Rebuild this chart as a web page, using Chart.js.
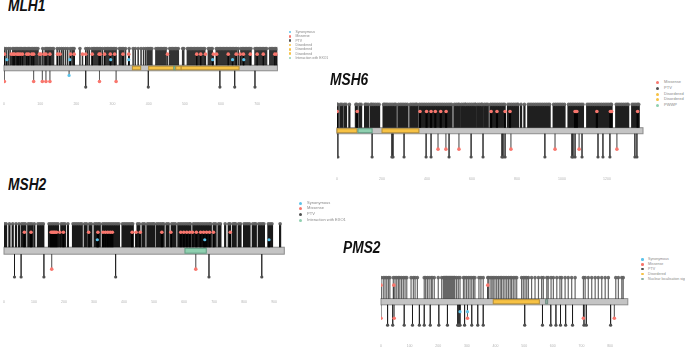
<!DOCTYPE html>
<html>
<head>
<meta charset="utf-8">
<script src="https://cdn.jsdelivr.net/npm/chart.js@4.4.0/dist/chart.umd.min.js"></script>
<style>
  html, body { margin: 0; padding: 0; background: #fff; overflow: hidden; width: 685px; height: 348px; }
  #page { position: relative; width: 685px; height: 348px; }
  canvas { position: absolute; }
  .title { position: absolute; font-family: "Liberation Sans", Arial, sans-serif; font-weight: bold; font-style: italic;
           font-size: 16px; line-height: 16px; color: #111; transform: scaleX(0.86); transform-origin: left top; }
  .legend { position: absolute; font-family: "Liberation Sans", Arial, sans-serif; color: #888; white-space: nowrap; }
  .legend div { position: absolute; left: 0; }
  .legend span { position: absolute; border-radius: 50%; }
</style>
</head>
<body>
<div id="page"></div>
<script>
// ---- data (amino-acid positions) ----
const mlh1Ticks = [0, 100, 200, 300, 400, 500, 600, 700];
const mlh1Ptv = [1, 6, 12, 17, 24, 27, 31, 35, 38, 42, 46, 49, 53, 57, 60, 64, 68, 71, 75, 79, 83, 86, 90, 94, 107, 114, 118, 121, 125, 129, 133, 137,
  147, 153, 159, 164, 170, 176, 183, 188, 191, 194, 210, 226, 231, 236, 243, 247, 251, 255, 259, 263, 267, 272, 278, 282, 286, 290, 294, 298,
  302, 306, 310, 319, 323, 327, 331, 336, 346, 357, 363, 371, 379, 386, 392, 397, 401, 405, 409, 420, 424, 428, 432, 436, 440, 444, 448, 458,
  462, 466, 470, 474, 478, 482, 494, 497, 507, 511, 515, 519, 523, 527, 531, 535, 539, 543, 547, 551, 555, 565, 569, 573, 576, 587, 591, 595,
  599, 603, 607, 611, 615, 619, 623, 627, 631, 635, 639, 643, 648, 655, 659, 663, 667, 671, 675, 679, 683, 694, 698, 702, 706, 710, 714, 718,
  722, 726, 735, 739, 743, 747, 751, 755];
const mlh1Mis = [1, 20, 25, 29, 36, 40, 45, 51, 63, 68, 77, 82, 98, 102, 111, 116, 127, 148, 155, 184, 194, 217, 226, 244, 263, 266, 278, 294,
  306, 329, 345, 452, 533, 544, 557, 579, 588, 620, 642, 653, 662, 681, 700, 717, 749, 755];
const mlh1Syn = [8, 182, 295, 345, 577, 632, 663];
const mlh1BotSyn = [180];
const mlh1BotMis = [1, 82, 106, 116, 127, 264, 310];
const mlh1BotPtv = [226, 399, 597, 638, 694];
const mlh1Domains = [["Disordered", 355, 378], ["Disordered", 400, 470], ["Interaction with EXO1", 470, 475], ["Disordered", 475, 490], ["Disordered", 490, 650]];
const mlh1Legend = ["Synonymous", "Missense", "PTV", "Disordered", "Disordered", "Disordered", "Interaction with EXO1"];

const msh6Ticks = [0, 200, 400, 600, 800, 1000, 1200];
const msh6Ptv = [1, 3, 15, 22, 33, 40, 55, 84, 88, 100, 107, 125, 130, 138, 150, 155, 162, 170, 179, 187, 207, 212, 218, 224, 232, 240, 248, 256,
  261, 273, 281, 289, 297, 305, 313, 326, 334, 342, 350, 355, 366, 374, 382, 390, 398, 406, 414, 422, 430, 438, 446, 454, 462, 470, 478, 486,
  494, 502, 509, 522, 530, 538, 543, 553, 561, 569, 572, 581, 589, 597, 605, 613, 616, 626, 634, 642, 645, 655, 663, 670, 682, 690, 698, 706,
  714, 722, 730, 738, 745, 760, 768, 776, 784, 792, 800, 805, 818, 833, 850, 858, 866, 874, 882, 890, 898, 906, 914, 922, 930, 938, 945, 963,
  971, 979, 987, 995, 1003, 1011, 1029, 1037, 1045, 1053, 1061, 1069, 1077, 1085, 1093, 1112, 1120, 1128, 1136, 1144, 1152, 1160, 1168, 1176,
  1184, 1192, 1200, 1208, 1216, 1220, 1241, 1249, 1257, 1265, 1273, 1281, 1289, 1294, 1312, 1320, 1328, 1336, 1341];
const msh6Mis = [1, 90, 369, 398, 418, 437, 461, 485, 685, 711, 747, 769, 1058, 1066, 1155, 1215, 1221, 1336];
const msh6Syn = [];
const msh6BotSyn = [];
const msh6BotMis = [449, 484, 542, 773, 969, 1076, 1244];
const msh6BotPtv = [4, 156, 244, 249, 298, 396, 418, 498, 596, 649, 733, 738, 747, 924, 1044, 1049, 1058, 1089, 1160, 1182, 1213, 1324, 1333];
const msh6Domains = [["Disordered", 0, 89], ["PWWP", 93, 156], ["Disordered", 200, 364]];
const msh6Legend = ["Missense", "PTV", "Disordered", "Disordered", "PWWP"];

const msh2Ticks = [0, 100, 200, 300, 400, 500, 600, 700, 800, 900];
const msh2Ptv = [1, 7, 18, 29, 40, 50, 59, 65, 71, 81, 87, 93, 101, 113, 119, 125, 131, 150, 156, 162, 168, 174, 180, 191, 197, 203, 213, 230,
  236, 242, 248, 254, 259, 269, 275, 285, 291, 302, 308, 314, 319, 329, 335, 341, 347, 353, 359, 365, 371, 377, 383, 395, 401, 407, 413, 419,
  425, 429, 445, 451, 462, 468, 478, 484, 490, 496, 500, 509, 515, 521, 527, 532, 542, 548, 559, 565, 571, 581, 587, 593, 599, 605, 611, 617,
  621, 631, 637, 643, 649, 655, 661, 667, 673, 679, 685, 689, 699, 705, 715, 721, 737, 749, 753, 763, 768, 772, 782, 788, 800, 806, 812, 818,
  829, 835, 839, 849, 855, 861, 866, 881, 887, 893, 920];
const msh2Mis = [68, 90, 157, 162, 166, 170, 175, 186, 198, 282, 313, 330, 338, 346, 354, 361, 427, 440, 454, 526, 556, 589, 599, 609, 619, 628,
  641, 655, 665, 675, 685, 698, 754];
const msh2Syn = [311, 669, 883];
const msh2BotSyn = [];
const msh2BotMis = [159, 639];
const msh2BotPtv = [35, 57, 133, 372, 683, 859];
const msh2Domains = [["Interaction with EXO1", 603, 674]];
const msh2Legend = ["Synonymous", "Missense", "PTV", "Interaction with EXO1"];

const pms2Ticks = [0, 100, 200, 300, 400, 500, 600, 700, 800];
const pms2Ptv = [0, 8, 14, 20, 26, 31, 43, 49, 55, 61, 66, 72, 78, 84, 90, 105, 113, 119, 127, 151, 156, 162, 168, 175, 179, 186, 200, 212, 218,
  221, 224, 227, 229, 232, 235, 238, 241, 244, 247, 250, 253, 256, 258, 264, 270, 276, 288, 293, 299, 305, 311, 317, 323, 328, 342, 349, 357,
  373, 375, 381, 387, 392, 398, 404, 410, 416, 421, 427, 433, 439, 445, 451, 456, 462, 468, 474, 491, 497, 503, 509, 515, 526, 538, 550, 561,
  567, 579, 584, 594, 602, 614, 625, 631, 643, 654, 666, 678, 707, 713, 724, 736, 748, 759, 771, 783, 794, 820, 829, 841, 846];
const pms2Mis = [0, 45, 373];
const pms2Syn = [];
const pms2BotSyn = [276, 302];
const pms2BotMis = [0, 46, 302, 707, 815];
const pms2BotPtv = [23, 41, 81, 110, 134, 151, 172, 202, 232, 268, 272, 276, 292, 317, 338, 357, 502, 564, 593, 611, 627, 645, 669, 709, 717, 802];
const pms2Domains = [["Disordered", 392, 553], ["Nuclear localisation signal", 575, 582]];
const pms2Legend = ["Synonymous", "Missense", "PTV", "Disordered", "Nuclear localisation signal"];

// ---- styles ----
const RED = "#F8766D", BLUE = "#5CC3EA", DARK = "#505050", BAND = "rgba(95,95,95,0.9)";
const YELLOW = "#F7C244", TEAL = "#8FD0B0", NLS = "#8FAFA3";
const domainFill = { "Disordered": YELLOW, "PWWP": TEAL, "Interaction with EXO1": TEAL, "Nuclear localisation signal": NLS };
const domainLine = { "Disordered": "#B58E35", "PWWP": "#5F9B80", "Interaction with EXO1": "#5F9B80", "Nuclear localisation signal": "#6E8A80" };
const legendColor = { "Synonymous": BLUE, "Missense": RED, "PTV": DARK, "Disordered": YELLOW, "PWWP": TEAL,
  "Interaction with EXO1": TEAL, "Nuclear localisation signal": NLS };

const genes = [
  { name: "MLH1", len: 756, ticks: mlh1Ticks, ptv: mlh1Ptv, mis: mlh1Mis, syn: mlh1Syn, bSyn: mlh1BotSyn, bMis: mlh1BotMis, bPtv: mlh1BotPtv,
    domains: mlh1Domains, legend: mlh1Legend,
    box: { left: 0, top: 40, width: 290, padL: 2, padR: 12.6 }, ymin: -26, ymax: 26, axisH: 18, tickPad: 9.5,
    lv: { top: 21, mis: 15, syn: 9, bar: 3, bSyn: -8, bMis: -14.7, bPtv: -20.7 },
    stem: { w: 1.5, c: "rgba(0,0,0,0.8)" },
    title: { x: 8, y: -2 }, leg: { x: 290, y: 32, gap: 4.33, font: 3.4 } },
  { name: "MSH6", len: 1360, ticks: msh6Ticks, ptv: msh6Ptv, mis: msh6Mis, syn: msh6Syn, bSyn: msh6BotSyn, bMis: msh6BotMis, bPtv: msh6BotPtv,
    domains: msh6Domains, legend: msh6Legend,
    box: { left: 330, top: 96, width: 320, padL: 7, padR: 7 }, ymin: -33.3, ymax: 32.7, axisH: 22, tickPad: 15,
    lv: { top: 28, mis: 20.4, syn: 12, bar: 3.2, bSyn: -12, bMis: -19.6, bPtv: -28 },
    stem: { w: 2.2, c: "rgba(0,0,0,0.88)" },
    title: { x: 330, y: 71.5 }, leg: { x: 657.7, y: 82.7, gap: 5.67, font: 4 } },
  { name: "MSH2", len: 934, ticks: msh2Ticks, ptv: msh2Ptv, mis: msh2Mis, syn: msh2Syn, bSyn: msh2BotSyn, bMis: msh2BotMis, bPtv: msh2BotPtv,
    domains: msh2Domains, legend: msh2Legend,
    box: { left: 0, top: 216, width: 295, padL: 2, padR: 10.7 }, ymin: -33.3, ymax: 32.7, axisH: 24, tickPad: 18,
    lv: { top: 28.7, mis: 19.7, syn: 11.7, bar: 3.7, bSyn: -12, bMis: -19.6, bPtv: -28 },
    stem: { w: 2.2, c: "rgba(0,0,0,0.9)" },
    title: { x: 8, y: 176.5 }, leg: { x: 300.7, y: 203.3, gap: 5.6, font: 4 } },
  { name: "PMS2", len: 862, ticks: pms2Ticks, ptv: pms2Ptv, mis: pms2Mis, syn: pms2Syn, bSyn: pms2BotSyn, bMis: pms2BotMis, bPtv: pms2BotPtv,
    domains: pms2Domains, legend: pms2Legend,
    box: { left: 374, top: 268, width: 262, padL: 7, padR: 8.2 }, ymin: -32.3, ymax: 31.7, axisH: 16, tickPad: 12,
    lv: { top: 25.7, mis: 17.7, syn: 11, bar: 3.3, bSyn: -10.6, bMis: -17.6, bPtv: -25 },
    stem: { w: 1.2, c: "rgba(0,0,0,0.6)" },
    title: { x: 343, y: 239.5 }, leg: { x: 642.3, y: 259.3, gap: 4.9, font: 3.6 } }
];

const page = document.getElementById("page");

function stemPoints(list, from, to) {
  const pts = [];
  list.forEach(p => { pts.push({ x: p, y: from }, { x: p, y: to }, { x: p, y: null }); });
  return pts;
}
function dotPoints(list, level) {
  return list.map(p => ({ x: p, y: level }));
}

function barPlugin(g) {
  return {
    id: "proteinBar",
    beforeDatasetsDraw(chart) {
      const { ctx, scales: { x, y } } = chart;
      const yTop = y.getPixelForValue(g.lv.bar), yBot = y.getPixelForValue(-g.lv.bar);
      const x0 = x.getPixelForValue(0), x1 = x.getPixelForValue(g.len);
      ctx.save();
      ctx.fillStyle = "#C4C4C4";
      ctx.strokeStyle = "#8C8C8C";
      ctx.lineWidth = 1;
      ctx.fillRect(x0, yTop, x1 - x0, yBot - yTop);
      ctx.strokeRect(x0, yTop, x1 - x0, yBot - yTop);
      g.domains.forEach(([kind, a, b]) => {
        const xa = x.getPixelForValue(a), xb = x.getPixelForValue(b);
        ctx.fillStyle = domainFill[kind];
        ctx.strokeStyle = domainLine[kind];
        ctx.fillRect(xa, yTop + 1, xb - xa, yBot - yTop - 2);
        ctx.strokeRect(xa, yTop + 1, xb - xa, yBot - yTop - 2);
      });
      ctx.restore();
    }
  };
}

function stemSet(data, color, width) {
  return { data, showLine: true, spanGaps: false, borderColor: color, borderWidth: width, pointRadius: 0, order: 10 };
}
function dotSet(data, color, r, order) {
  return { data, showLine: false, backgroundColor: color, borderWidth: 0, pointRadius: r, order };
}

genes.forEach(g => {
  const cv = document.createElement("canvas");
  const h = Math.round(g.ymax - g.ymin) + g.axisH;
  cv.width = g.box.width;
  cv.height = h;
  cv.style.left = g.box.left + "px";
  cv.style.top = g.box.top + "px";
  page.appendChild(cv);

  const L = g.lv;
  new Chart(cv.getContext("2d"), {
    type: "scatter",
    data: {
      datasets: [
        dotSet(dotPoints(g.mis, L.mis), RED, 1.8, 0),
        dotSet(dotPoints(g.syn, L.syn), BLUE, 1.6, 0),
        dotSet(dotPoints(g.bSyn, L.bSyn), BLUE, 1.6, 0),
        dotSet(dotPoints(g.bMis, L.bMis), RED, 1.8, 0),
        dotSet(dotPoints(g.bPtv, L.bPtv), DARK, 1.6, 0),
        dotSet(dotPoints(g.ptv, L.top), BAND, 1.8, 1),
        stemSet(stemPoints(g.ptv, L.bar, L.top), g.stem.c, g.stem.w),
        stemSet(stemPoints(g.mis, L.bar, L.mis), g.stem.c, g.stem.w),
        stemSet(stemPoints(g.syn, L.bar, L.syn), g.stem.c, g.stem.w),
        stemSet(stemPoints(g.bPtv, -L.bar, L.bPtv), "rgba(0,0,0,0.55)", 1),
        stemSet(stemPoints(g.bMis, -L.bar, L.bMis), "rgba(0,0,0,0.3)", 1),
        stemSet(stemPoints(g.bSyn, -L.bar, L.bSyn), "rgba(0,0,0,0.3)", 1)
      ]
    },
    options: {
      responsive: false,
      animation: false,
      events: [],
      layout: { padding: { left: g.box.padL, right: g.box.padR, top: 0, bottom: 0 } },
      plugins: { legend: { display: false }, tooltip: { enabled: false } },
      scales: {
        x: {
          type: "linear", min: 0, max: g.len,
          border: { display: false },
          // invisible tick marks push the labels down without adding side padding
          grid: { display: true, drawOnChartArea: false, drawTicks: true, tickLength: g.tickPad,
                  color: "rgba(0,0,0,0)", tickColor: "rgba(0,0,0,0)" },
          ticks: { autoSkip: false, maxRotation: 0, padding: 0,
                   color: "#B4B4B4", font: { size: 3.5, family: "Liberation Sans" },
                   callback: v => String(v) },
          afterBuildTicks: s => { s.ticks = g.ticks.map(v => ({ value: v })); },
          afterFit: s => { s.height = g.axisH; }
        },
        y: { display: false, min: g.ymin, max: g.ymax }
      }
    },
    plugins: [barPlugin(g)]
  });

  const t = document.createElement("div");
  t.className = "title";
  t.textContent = g.name;
  t.style.left = g.title.x + "px";
  t.style.top = g.title.y + "px";
  page.appendChild(t);

  const lg = document.createElement("div");
  lg.className = "legend";
  lg.style.left = g.leg.x + "px";
  lg.style.top = g.leg.y + "px";
  lg.style.fontSize = g.leg.font + "px";
  g.legend.forEach((label, i) => {
    const row = document.createElement("div");
    row.style.top = (i * g.leg.gap - g.leg.font * 0.6) + "px";
    row.style.lineHeight = (g.leg.font * 1.2) + "px";
    const dot = document.createElement("span");
    const d = g.leg.font * 0.75;
    dot.style.width = d + "px";
    dot.style.height = d + "px";
    dot.style.left = (-d / 2) + "px";
    dot.style.top = (g.leg.font * 0.6 - d / 2) + "px";
    dot.style.background = legendColor[label];
    row.appendChild(dot);
    const txt = document.createElement("div");
    txt.style.left = (g.leg.font * 1.6) + "px";
    txt.style.top = "0px";
    txt.textContent = label;
    row.appendChild(txt);
    lg.appendChild(row);
  });
  page.appendChild(lg);
});
</script>
</body>
</html>
